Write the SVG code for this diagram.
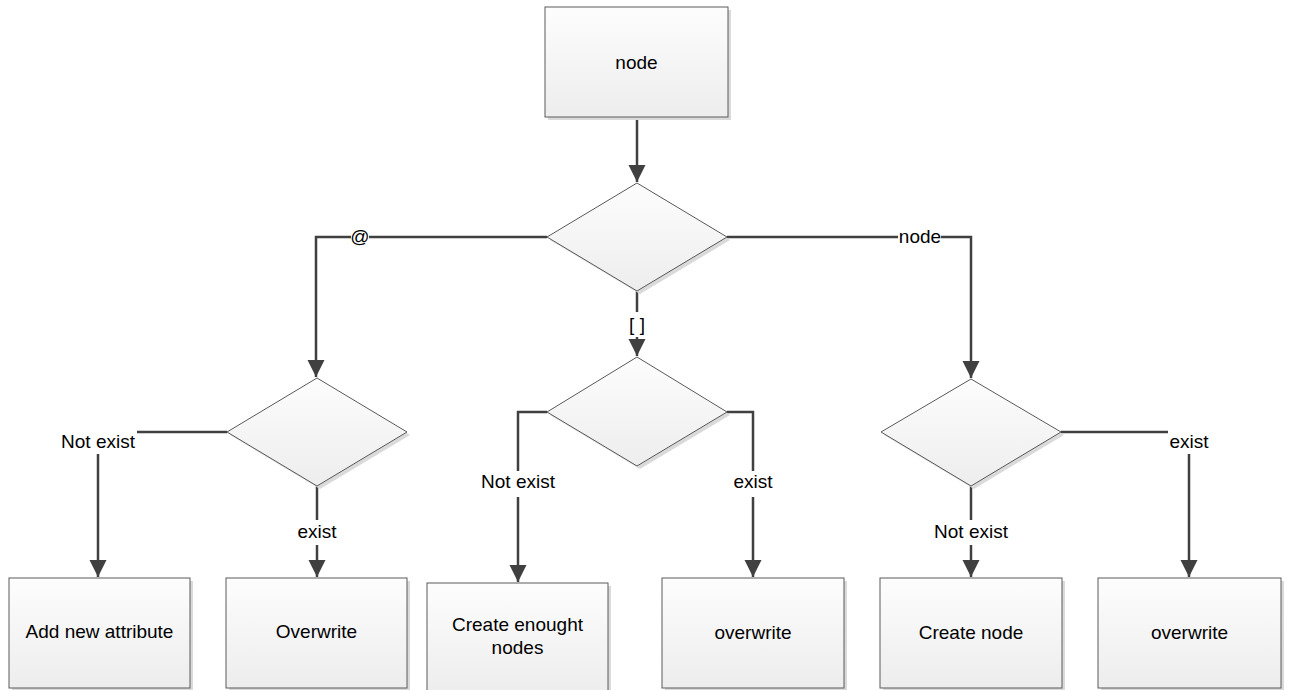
<svg xmlns="http://www.w3.org/2000/svg" width="1289" height="690" viewBox="0 0 1289 690">
<style>
.shape{fill:url(#g);stroke:#5a5a5a;stroke-width:1}
.shadow{fill:#dadada;stroke:none}
.t{font-family:"Liberation Sans",Arial,sans-serif;font-size:19px;fill:#000;text-anchor:middle}
.c{fill:none;stroke:#404040;stroke-width:2.5}
.bg{fill:#fff;stroke:none}
</style>
<defs>
<linearGradient id="g" x1="0" y1="0" x2="0" y2="1">
<stop offset="0" stop-color="#fdfdfd"/>
<stop offset="1" stop-color="#ededed"/>
</linearGradient>
<marker id="a" markerUnits="userSpaceOnUse" markerWidth="18" markerHeight="20" refX="17" refY="8.5" orient="auto">
<path d="M0,0 L17,8.5 L0,17 Z" fill="#404040"/>
</marker>
</defs>
<rect width="1289" height="690" fill="#fff"/>

<g id="connectors">
<path class="c" d="M637,117 L637,182" marker-end="url(#a)"/>
<path class="c" d="M547,237 L316,237 L316,377" marker-end="url(#a)"/>
<path class="c" d="M727,237 L971,237 L971,378" marker-end="url(#a)"/>
<path class="c" d="M637,291 L637,356" marker-end="url(#a)"/>
<path class="c" d="M227,432 L98,432 L98,577" marker-end="url(#a)"/>
<path class="c" d="M317,486 L317,577" marker-end="url(#a)"/>
<path class="c" d="M547,412 L518,412 L518,582" marker-end="url(#a)"/>
<path class="c" d="M727,412 L753,412 L753,577" marker-end="url(#a)"/>
<path class="c" d="M971,486 L971,577" marker-end="url(#a)"/>
<path class="c" d="M1061,432 L1189,432 L1189,577" marker-end="url(#a)"/>
<rect class="bg" x="351" y="228" width="18" height="20"/>
<text class="t" x="360" y="243">@</text>
<rect class="bg" x="898" y="228" width="43" height="20"/>
<text class="t" x="920" y="243">node</text>
<rect class="bg" x="627" y="312" width="20" height="25"/>
<text class="t" x="637" y="331">[ ]</text>
<rect class="bg" x="60" y="426" width="77" height="28"/>
<text class="t" x="98" y="448">Not exist</text>
<rect class="bg" x="296" y="520" width="42" height="25"/>
<text class="t" x="317" y="538">exist</text>
<rect class="bg" x="480" y="471" width="77" height="26"/>
<text class="t" x="518" y="488">Not exist</text>
<rect class="bg" x="732" y="471" width="42" height="26"/>
<text class="t" x="753" y="488">exist</text>
<rect class="bg" x="933" y="520" width="77" height="25"/>
<text class="t" x="971" y="538">Not exist</text>
<rect class="bg" x="1168" y="426" width="42" height="28"/>
<text class="t" x="1189" y="448">exist</text>
</g>

<g id="n-top">
<rect class="shadow" x="548" y="10" width="183" height="110"/>
<rect class="shape" x="545" y="7" width="183" height="110"/>
<text class="t" x="636.5" y="69">node</text>
</g>
<g id="d-main">
<polygon class="shadow" points="640,186 730,240 640,294 550,240"/>
<polygon class="shape" points="637,183 727,237 637,291 547,237"/>
</g>
<g id="d-attr">
<polygon class="shadow" points="320,381 410,435 320,489 230,435"/>
<polygon class="shape" points="317,378 407,432 317,486 227,432"/>
</g>
<g id="d-index">
<polygon class="shadow" points="640,360 730,415 640,469 550,415"/>
<polygon class="shape" points="637,357 727,412 637,466 547,412"/>
</g>
<g id="d-node">
<polygon class="shadow" points="974,382 1064,435 974,489 884,435"/>
<polygon class="shape" points="971,379 1061,432 971,486 881,432"/>
</g>
<g id="n-add">
<rect class="shadow" x="12" y="581" width="181" height="110"/>
<rect class="shape" x="9" y="578" width="181" height="110"/>
<text class="t" x="99.5" y="638">Add new attribute</text>
</g>
<g id="n-overwrite1">
<rect class="shadow" x="229" y="581" width="181" height="110"/>
<rect class="shape" x="226" y="578" width="181" height="110"/>
<text class="t" x="316.5" y="638">Overwrite</text>
</g>
<g id="n-create-enough">
<rect class="shadow" x="430" y="586" width="181" height="110"/>
<rect class="shape" x="427" y="583" width="181" height="110"/>
<text class="t" x="517.5" y="631">Create enought</text>
<text class="t" x="517.5" y="654">nodes</text>
</g>
<g id="n-overwrite2">
<rect class="shadow" x="665" y="581" width="182" height="110"/>
<rect class="shape" x="662" y="578" width="182" height="110"/>
<text class="t" x="753" y="639">overwrite</text>
</g>
<g id="n-create-node">
<rect class="shadow" x="883" y="581" width="182" height="110"/>
<rect class="shape" x="880" y="578" width="182" height="110"/>
<text class="t" x="971" y="639">Create node</text>
</g>
<g id="n-overwrite3">
<rect class="shadow" x="1101" y="581" width="183" height="110"/>
<rect class="shape" x="1098" y="578" width="183" height="110"/>
<text class="t" x="1189.5" y="639">overwrite</text>
</g>
</svg>
